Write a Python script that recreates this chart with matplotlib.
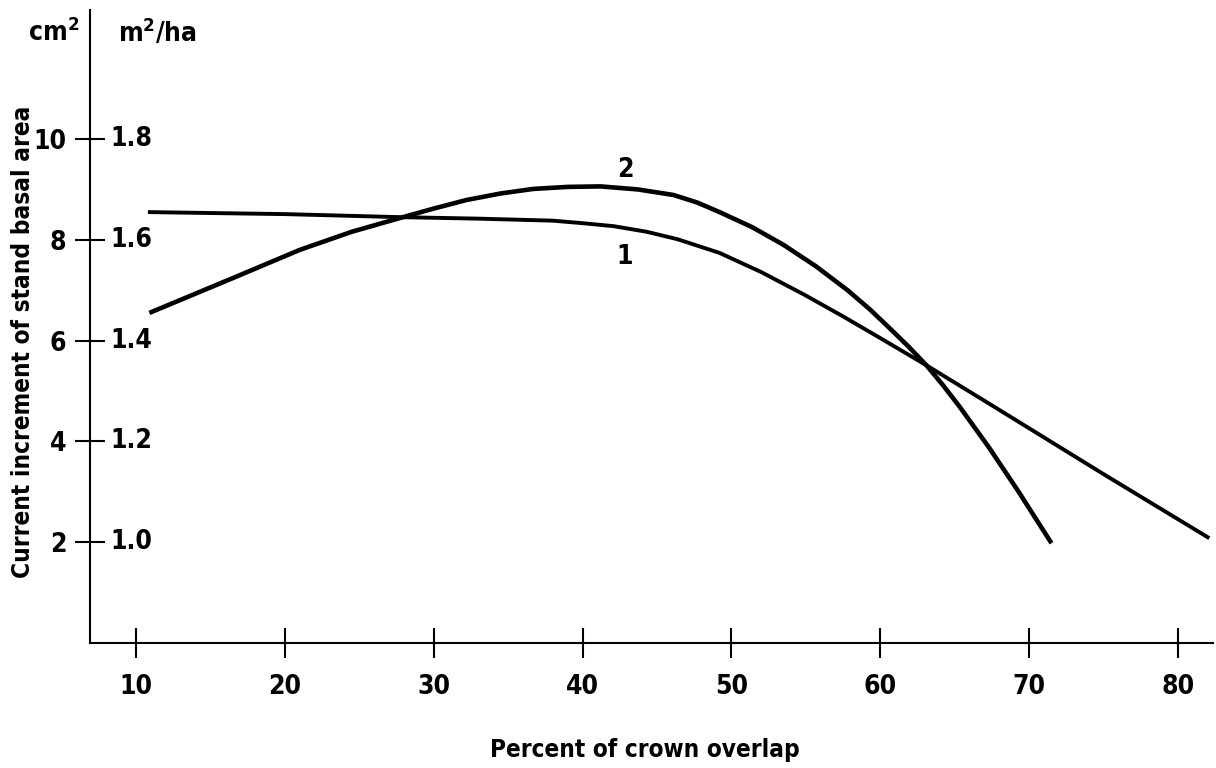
'''
Current increment of stand basal area vs. percent of crown overlap,
two curves (1 and 2), with a double y scale (cm2 per tree and m2/ha).
'''

import matplotlib
matplotlib.use('Agg')
import matplotlib.pyplot as plt

# Curve 1
x1 = [10.8, 20.0, 27.7, 33.0, 38.0, 40.0, 42.1, 44.3, 46.4, 49.2, 52.0, 54.9,
      57.5, 60.0, 63.1, 66.7, 70.0, 75.0, 82.1]
y1 = [8.55, 8.51, 8.45, 8.42, 8.38, 8.33, 8.27, 8.16, 8.01, 7.74, 7.36, 6.91,
      6.48, 6.05, 5.51, 4.86, 4.26, 3.35, 2.08]

# Curve 2
x2 = [10.9, 16.5, 21.0, 24.5, 27.7, 30.0, 32.2, 34.5, 36.7, 39.0, 41.2, 43.7,
      46.1, 47.7, 49.2, 51.4, 53.5, 55.7, 57.8, 59.3, 60.65, 61.9, 63.1, 64.2,
      65.35, 67.3, 69.25, 71.5]
y2 = [6.55, 7.24, 7.80, 8.16, 8.43, 8.62, 8.79, 8.92, 9.01, 9.05, 9.06, 9.00,
      8.89, 8.74, 8.55, 8.25, 7.90, 7.47, 7.00, 6.62, 6.24, 5.88, 5.51, 5.12,
      4.68, 3.88, 3.02, 1.98]

# Axis ticks
x_ticks = [10, 20, 30, 40, 50, 60, 70, 80]
cm_ticks = [2, 4, 6, 8, 10]
ha_ticks = ['1.0', '1.2', '1.4', '1.6', '1.8']

plt.rcParams['font.family'] = ['DejaVu Sans']
plt.rcParams['font.stretch'] = 'condensed'
plt.rcParams['font.weight'] = 'bold'
plt.rcParams['mathtext.fontset'] = 'custom'
plt.rcParams['mathtext.rm'] = 'DejaVu Sans:bold'

fig = plt.figure(figsize=(12.16, 7.68), dpi=100)
ax = fig.add_axes([90 / 1216, 1 - 643 / 768, 1123 / 1216, 633 / 768])

ax.plot(x1, y1, color='black', lw=2.8, solid_joinstyle='round', solid_capstyle='butt')
ax.plot(x2, y2, color='black', lw=3.3, solid_joinstyle='round', solid_capstyle='butt')

ax.set_xlim(6.91, 82.35)
ax.set_ylim(0, 12.56)

for s in ['top', 'right']:
    ax.spines[s].set_visible(False)
for s in ['left', 'bottom']:
    ax.spines[s].set_linewidth(1.5)

ax.set_xticks(x_ticks)
ax.set_yticks(cm_ticks)
ax.tick_params(direction='inout', length=22, width=1.5, labelsize=19)
ax.tick_params(axis='x', pad=11)
ax.tick_params(axis='y', pad=6)

# m2/ha scale written to the right of the axis
for v, lab in zip(cm_ticks, ha_ticks):
    ax.annotate(lab, xy=(0, v), xycoords=('axes fraction', 'data'),
                xytext=(15, 0), textcoords='offset points',
                va='center', ha='left', fontsize=19)

# curve labels
ax.text(42.85, 9.38, '2', fontsize=19, ha='center', va='center')
ax.text(42.85, 7.66, '1', fontsize=19, ha='center', va='center')

# units
fig.text(54 / 1216, 1 - 33 / 768, 'cm$^2$', fontsize=19, ha='center', va='center')
fig.text(157 / 1216, 1 - 33 / 768, 'm$^2$/ha', fontsize=19, ha='center', va='center')

fig.text(645 / 1216, 1 - 750 / 768, 'Percent of crown overlap', fontsize=17.5,
         ha='center', va='center')
fig.text(23 / 1216, 1 - 342 / 768, 'Current increment of stand basal area',
         fontsize=17.5, ha='center', va='center', rotation=90)

fig.savefig('out.png', dpi=100, facecolor='white')
